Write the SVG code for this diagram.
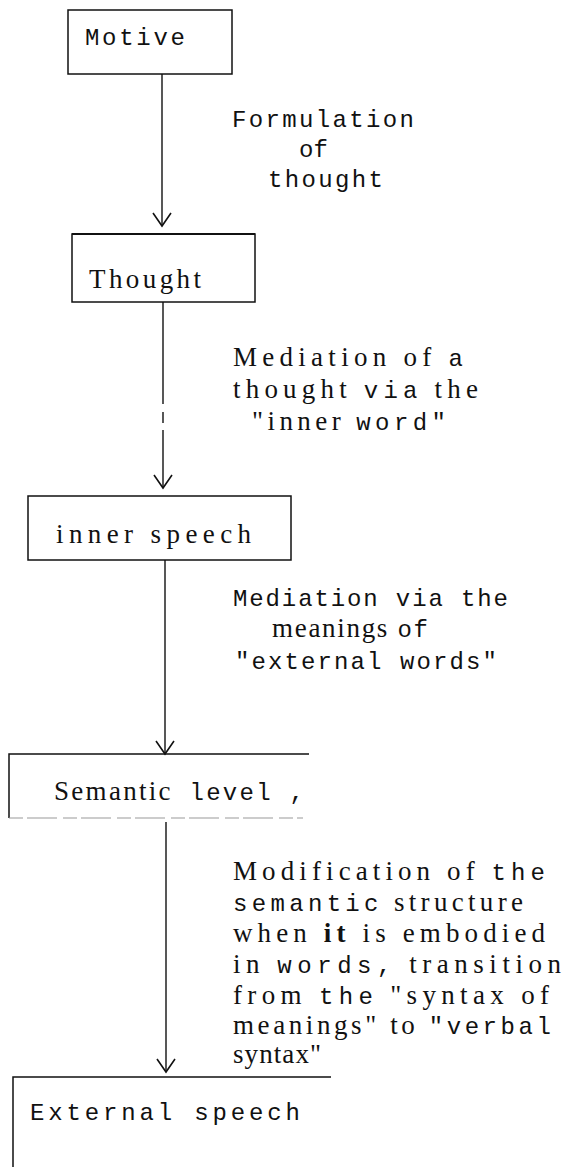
<svg xmlns="http://www.w3.org/2000/svg" width="562" height="1167" viewBox="0 0 562 1167">
<style>
.box{fill:none;stroke:#111;stroke-width:1.5}
.edge{fill:none;stroke:#111;stroke-width:1.4}
.m{font-family:"Liberation Mono",monospace;font-size:24px;fill:#111}
.s{font-family:"Liberation Serif",serif;font-size:27px;fill:#111}
.b{font-weight:bold}
</style>
<defs>
<marker id="arr" viewBox="-15 -11 17 22" refX="0" refY="0" markerWidth="17" markerHeight="22" markerUnits="userSpaceOnUse" orient="auto">
<path d="M-13,-9 L0,0 L-13,9" fill="none" stroke="#111" stroke-width="1.6"/>
</marker>
</defs>
<rect width="562" height="1167" fill="#fff"/>
<g id="connectors">
<line class="edge" x1="162" y1="74" x2="162" y2="226" marker-end="url(#arr)"/>
<line class="edge" x1="163" y1="302" x2="163" y2="404"/>
<line class="edge" x1="163" y1="412" x2="163" y2="423"/>
<line class="edge" x1="163" y1="430" x2="163" y2="488" marker-end="url(#arr)"/>
<line class="edge" x1="165" y1="560" x2="165" y2="754" marker-end="url(#arr)"/>
<line class="edge" x1="166" y1="822" x2="166" y2="1072" marker-end="url(#arr)"/>
<text class="m" x="232" y="127" textLength="182">Formulation</text>
<text class="m" x="299" y="157">of</text>
<text class="m" x="268" y="187" textLength="115">thought</text>
<text class="s" x="233" y="366" textLength="230">Mediation of <tspan class="m">a</tspan></text>
<text class="s" x="233" y="398" textLength="245">thought <tspan class="m">via</tspan> the</text>
<text class="s" x="252" y="430" textLength="194">"inner <tspan class="m">word"</tspan></text>
<text class="m" x="233" y="606" textLength="275">Mediation via the</text>
<text class="s" x="272" y="637" textLength="156">meanings <tspan class="m">of</tspan></text>
<text class="m" x="235" y="669" textLength="262">"external words"</text>
<text class="s" x="233" y="880" textLength="312">Modification of <tspan class="m">the</tspan></text>
<text class="m" x="233" y="911" textLength="290">semantic<tspan class="s"> structure</tspan></text>
<text class="s" x="233" y="942" textLength="312">when <tspan class="b">it</tspan> is embodied</text>
<text class="s" x="233" y="973" textLength="328">in <tspan class="m">words,</tspan> transition</text>
<text class="s" x="233" y="1004" textLength="316">from <tspan class="m">the</tspan> "syntax of</text>
<text class="s" x="233" y="1034" textLength="318">meanings" to <tspan class="m">"verbal</tspan></text>
<text class="s" x="233" y="1063" textLength="88">syntax"</text>
</g>
<g id="motive">
<rect class="box" x="68" y="10" width="164" height="64"/>
<text class="m" x="85" y="45" textLength="100">Motive</text>
</g>
<g id="thought">
<rect class="box" x="72" y="234" width="183" height="68"/>
<line x1="72" y1="234" x2="255" y2="234" stroke="#111" stroke-width="2"/>
<text class="s" x="89" y="288" textLength="112">Thought</text>
</g>
<g id="inner-speech">
<rect class="box" x="28" y="496" width="263" height="64"/>
<text class="s" x="56" y="543" textLength="195">inner speech</text>
</g>
<g id="semantic-level">
<path class="box" d="M309,754 H9 V818"/>
<line x1="9" y1="818" x2="303" y2="818" stroke="#999" stroke-width="1.2" stroke-dasharray="14 4 30 6"/>
<text class="s" x="54" y="800" textLength="250">Semantic<tspan class="m"> level ,</tspan></text>
</g>
<g id="external-speech">
<path class="box" d="M331,1077 H13 V1167"/>
<text class="m" x="30" y="1120" textLength="270">External speech</text>
</g>
</svg>
